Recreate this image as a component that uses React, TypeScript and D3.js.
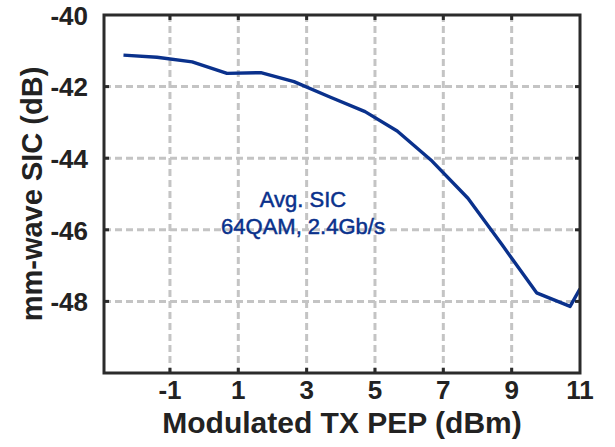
import React from "react";
import * as d3 from "d3";

const txPep: number[] = [-2.36, -1.38, -0.35, 0.67, 1.66, 2.63, 3.68, 4.71, 5.65, 6.67, 7.72, 8.72, 9.73, 10.71, 11.0];
const sic: number[] = [-41.12, -41.18, -41.31, -41.63, -41.61, -41.86, -42.29, -42.7, -43.24, -44.08, -45.12, -46.42, -47.76, -48.14, -47.65];
const xTicks: number[] = [-1, 1, 3, 5, 7, 9, 11];
const yTicks: number[] = [-40, -42, -44, -46, -48];
const yGrid: number[] = [-42, -44, -46, -48];
const xGrid: number[] = [-1, 1, 3, 5, 7, 9];
const annotation: string[] = ["Avg. SIC", "64QAM, 2.4Gb/s"];

const W = 615;
const H = 447;
const M = { left: 104, right: 580, top: 15, bottom: 373 };

export default function App() {
  const x = d3.scaleLinear().domain([-2.93, 11]).range([M.left, M.right]);
  const y = d3.scaleLinear().domain([-50, -40]).range([M.bottom, M.top]);
  const line = d3
    .line<number>()
    .x((_, i) => x(txPep[i]))
    .y((d) => y(d));
  const font = "'Liberation Sans', Arial, sans-serif";
  const axisColor = "#2b2b2b";
  const gridColor = "#c4c4c4";
  const blue = "#0a318c";
  return (
    <svg
      width={W}
      height={H}
      style={{ position: "absolute", left: 0, top: 0, background: "#fff" }}
      fontFamily={font}
    >
      <defs>
        <clipPath id="plot">
          <rect x={M.left} y={M.top} width={M.right - M.left} height={M.bottom - M.top} />
        </clipPath>
      </defs>
      {yGrid.map((v) => (
        <line
          key={"hy" + v}
          x1={M.left}
          x2={M.right}
          y1={y(v)}
          y2={y(v)}
          stroke={gridColor}
          strokeWidth={3}
          strokeDasharray="7 4"
        />
      ))}
      {xGrid.map((v) => (
        <line
          key={"vx" + v}
          x1={x(v)}
          x2={x(v)}
          y1={M.top}
          y2={M.bottom}
          stroke={gridColor}
          strokeWidth={3}
          strokeDasharray="7 4"
        />
      ))}
      {xGrid.map((v) => (
        <g key={"tx" + v}>
          <line x1={x(v)} x2={x(v)} y1={M.bottom} y2={M.bottom - 5} stroke={axisColor} strokeWidth={3} />
          <line x1={x(v)} x2={x(v)} y1={M.top} y2={M.top + 5} stroke={axisColor} strokeWidth={3} />
        </g>
      ))}
      {yGrid.map((v) => (
        <g key={"ty" + v}>
          <line x1={M.left} x2={M.left + 5} y1={y(v)} y2={y(v)} stroke={axisColor} strokeWidth={3} />
          <line x1={M.right} x2={M.right - 5} y1={y(v)} y2={y(v)} stroke={axisColor} strokeWidth={3} />
        </g>
      ))}
      <path
        d={line(sic) || ""}
        fill="none"
        stroke={blue}
        strokeWidth={3.4}
        strokeLinejoin="round"
        clipPath="url(#plot)"
      />
      <rect
        x={M.left}
        y={M.top}
        width={M.right - M.left}
        height={M.bottom - M.top}
        fill="none"
        stroke={axisColor}
        strokeWidth={3}
      />
      {yTicks.map((v) => (
        <text
          key={"yl" + v}
          x={M.left - 16}
          y={y(v) + 3}
          textAnchor="end"
          dominantBaseline="middle"
          fontSize={26}
          fontWeight="bold"
          fill="#222"
        >
          {v}
        </text>
      ))}
      {xTicks.map((v) => (
        <text
          key={"xl" + v}
          x={x(v)}
          y={M.bottom + 19}
          textAnchor="middle"
          dominantBaseline="middle"
          fontSize={26}
          fontWeight="bold"
          fill="#222"
        >
          {v}
        </text>
      ))}
      <text
        x={(M.left + M.right) / 2}
        y={433}
        textAnchor="middle"
        fontSize={30}
        fontWeight="bold"
        fill="#222"
      >
        Modulated TX PEP (dBm)
      </text>
      <text
        transform={`translate(42, ${(M.top + M.bottom) / 2}) rotate(-90)`}
        textAnchor="middle"
        fontSize={29}
        fontWeight="bold"
        fill="#222"
      >
        mm-wave SIC (dB)
      </text>
      {annotation.map((t, i) => (
        <text
          key={t}
          x={303}
          y={207 + i * 27}
          textAnchor="middle"
          fontSize={22}
          fill={blue}
          stroke={blue}
          strokeWidth={0.5}
        >
          {t}
        </text>
      ))}
    </svg>
  );
}
